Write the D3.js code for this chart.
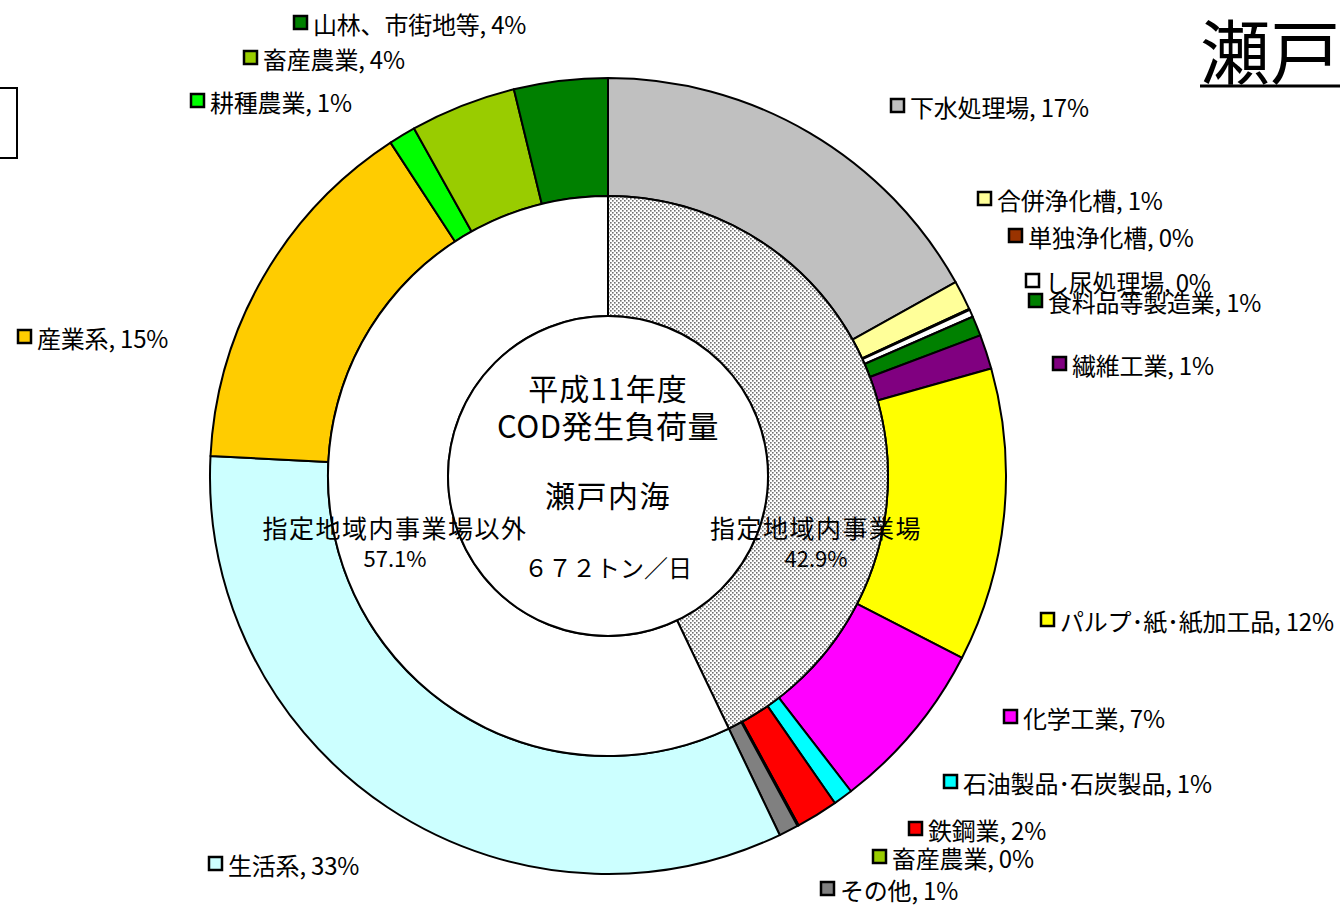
<!DOCTYPE html>
<html><head><meta charset="utf-8">
<script src="https://cdn.jsdelivr.net/npm/d3@7"></script>
<style>
body{margin:0;background:#fff;}
svg{display:block;}
text{font-family:"Noto Sans CJK JP","Noto Sans",sans-serif;fill:#000;}
</style>
</head><body>
<svg id="chart" width="1340" height="906"></svg>
<script>
// ---- data ----
const outerCategories = ["下水処理場","合併浄化槽","単独浄化槽","し尿処理場","食料品等製造業","繊維工業","パルプ･紙･紙加工品","化学工業","石油製品･石炭製品","鉄鋼業","畜産農業","その他","生活系","産業系","耕種農業","畜産農業","山林、市街地等"];
const outerValues = [16.9, 1.2, 0.05, 0.3, 0.8, 1.4, 11.9, 7.0, 0.8, 1.7, 0.05, 0.8, 32.9, 15.0, 1.1, 4.3, 3.8];
const outerPctLabels = ["17%","1%","0%","0%","1%","1%","12%","7%","1%","2%","0%","1%","33%","15%","1%","4%","4%"];
const innerCategories = ["指定地域内事業場","指定地域内事業場以外"];
const innerValues = [42.9, 57.1];
const innerPctLabels = ["42.9%","57.1%"];
const centerLines = ["平成11年度","COD発生負荷量","瀬戸内海","６７２トン／日"];
const titleText = "瀬戸内海";

// ---- styles / layout ----
const outerColors = ["#C0C0C0","#FFFF99","#993300","#FFFFFF","#008000","#800080","#FFFF00","#FF00FF","#00FFFF","#FF0000","#99CC00","#808080","#CCFFFF","#FFCC00","#00FF00","#99CC00","#008000"];
const labelLayout = [[890,106],[977,199],[1008,236],[1025,281],[1028,301],[1052,364],[1040,620],[1003,717],[943,782],[908,829],[872,857],[820,889],[208,864],[17,337],[190,101],[243,58],[293,23]];
const cx = 608, cy = 476;
const rHole = 160, rMid = 280, rOuter = 398;

const svg = d3.select("#chart");
const defs = svg.append("defs");
const pat = defs.append("pattern").attr("id","dots").attr("patternUnits","userSpaceOnUse")
  .attr("width",4).attr("height",4);
pat.append("rect").attr("width",4).attr("height",4).attr("fill","#fff");
pat.append("rect").attr("x",0).attr("y",0).attr("width",1.6).attr("height",1.6).attr("fill","#707070");
pat.append("rect").attr("x",2).attr("y",2).attr("width",1.6).attr("height",1.6).attr("fill","#707070");

const g = svg.append("g").attr("transform",`translate(${cx},${cy})`);
const pie = d3.pie().sort(null).value(d=>d);

// outer ring
const outerArc = d3.arc().innerRadius(rMid).outerRadius(rOuter);
g.selectAll("path.outer").data(pie(outerValues)).join("path")
  .attr("class","outer").attr("d",outerArc)
  .attr("fill",(d,i)=>outerColors[i]).attr("stroke","#000").attr("stroke-width",2)
  .attr("stroke-linejoin","round");

// inner ring
const innerArc = d3.arc().innerRadius(rHole).outerRadius(rMid);
const innerFills = ["url(#dots)","#FFFFFF"];
g.selectAll("path.inner").data(pie(innerValues)).join("path")
  .attr("class","inner").attr("d",innerArc)
  .attr("fill",(d,i)=>innerFills[i]).attr("stroke","#000").attr("stroke-width",2);

// centre circle
g.append("circle").attr("r",rHole).attr("fill","#fff").attr("stroke","#000").attr("stroke-width",2);

// centre text
const centerY = [-89,-52,18,90];
const centerSize = [30,31,30,24];
const centerSpacing = [1,0.5,1.5,0];
centerLines.forEach((t,i)=>{
  g.append("text").attr("x",0).attr("y",centerY[i]).attr("text-anchor","middle")
   .attr("dominant-baseline","central").attr("font-size",centerSize[i])
   .attr("letter-spacing",centerSpacing[i]).text(t);
});

// inner labels
const innerLabelPos = [[208,51],[-213,51]];
innerCategories.forEach((t,i)=>{
  const [x,y] = innerLabelPos[i];
  g.append("text").attr("x",x).attr("y",y).attr("text-anchor","middle")
   .attr("dominant-baseline","central").attr("font-size",25).attr("letter-spacing",1.5).text(t);
  g.append("text").attr("x",x).attr("y",y+30).attr("text-anchor","middle")
   .attr("dominant-baseline","central").attr("font-size",22).text(innerPctLabels[i]);
});

// outer labels (legend-key style)
const lab = svg.append("g");
outerCategories.forEach((t,i)=>{
  const [x,y] = labelLayout[i];
  lab.append("rect").attr("x",x+1).attr("y",y-7).attr("width",13).attr("height",13)
    .attr("fill",outerColors[i]).attr("stroke","#000").attr("stroke-width",2.5);
  lab.append("text").attr("x",x+20).attr("y",y).attr("dominant-baseline","central")
    .attr("font-size",24).attr("letter-spacing",-0.2).text(`${t}, ${outerPctLabels[i]}`);
});

// title (clipped at right edge)
svg.append("text").attr("x",1200).attr("y",48).attr("dominant-baseline","central")
  .attr("font-size",70).text(titleText);
svg.append("line").attr("x1",1200).attr("x2",1345).attr("y1",86).attr("y2",86)
  .attr("stroke","#000").attr("stroke-width",3);

// partial box at left
svg.append("rect").attr("x",-4).attr("y",88).attr("width",21).attr("height",70)
  .attr("fill","none").attr("stroke","#000").attr("stroke-width",2);
</script>
</body></html>
